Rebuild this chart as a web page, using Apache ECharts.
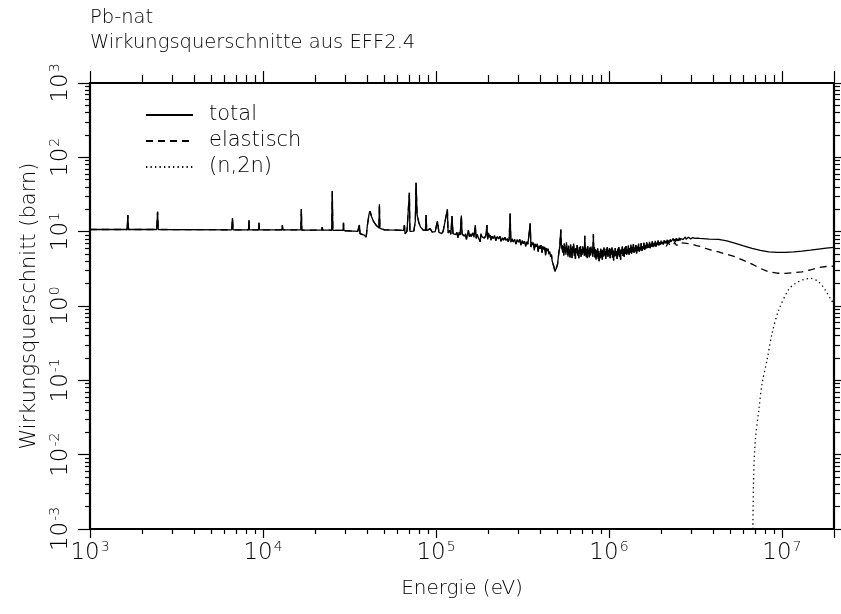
<!DOCTYPE html>
<html>
<head>
<meta charset="utf-8">
<script src="https://cdn.jsdelivr.net/npm/echarts@6/dist/echarts.min.js"></script>
<style>
  html, body { margin: 0; padding: 0; background: #fff; }
  #chart { width: 841px; height: 614px; }
</style>
</head>
<body>
<div id="chart"></div>
<script>
// Pb-nat cross sections from EFF-2.4: energy in eV, cross section in barn.

// Total cross section, resolved resonance range (1 keV - 100 keV)
const totalResolved = [
  [1000, 10.7], [1640, 10.7], [1655, 16.7], [1670, 10.7],
  [2430, 10.7], [2459, 18.5], [2480, 10.7],
  [6600, 10.6], [6660, 15.2], [6720, 10.6],
  [8250, 10.6], [8300, 14.3], [8350, 10.6],
  [9430, 10.6], [9480, 13.2], [9530, 10.6],
  [12850, 10.6], [12940, 12.3], [13030, 10.6],
  [16550, 10.6], [16660, 20.1], [16770, 10.5],
  [21850, 10.5], [22000, 11.5], [22150, 10.5],
  [24950, 10.5], [25150, 35.2], [25350, 10.4],
  [29000, 10.4], [29200, 13.2], [29400, 10.3],
  [35300, 10.1], [35800, 9.7], [36100, 12.3], [36400, 9.4],
  [38500, 9.0], [39500, 8.4], [40100, 12.0], [41000, 17.0], [41600, 18.9],
  [42400, 16.0], [43700, 13.5], [45400, 12.0], [46800, 11.2], [47100, 23.3],
  [47400, 11.1], [50400, 10.6], [60000, 10.5], [65000, 10.4], [65700, 12.3],
  [66300, 9.3], [68000, 10.2], [69800, 10.2], [70200, 33.4], [70700, 10.1],
  [74500, 10.2], [76000, 14.0], [76700, 45.5], [77800, 17.0], [79500, 13.4],
  [81500, 11.5], [84000, 10.6], [87000, 10.4], [87700, 16.7], [88400, 10.3],
  [92600, 11.0], [95000, 9.9], [99000, 10.0]
];

// Total cross section, 100 keV - 2 MeV (dense resonance structure)
const totalMid = [
  [101900, 13.9], [104000, 9.8], [106000, 10.3], [108000, 9.4], [110000, 10.1],
  [112000, 9.7], [116400, 20.0], [117500, 9.6], [120000, 10.4], [122000, 9.2],
  [123800, 16.2], [125500, 9.4], [128000, 10.0], [130000, 9.1], [132000, 9.8],
  [134000, 8.3], [136000, 9.8], [138000, 9.0], [140200, 16.5], [141500, 9.3],
  [144000, 9.7], [146000, 8.7], [148000, 9.4], [150000, 7.9], [152000, 9.2],
  [154000, 10.4], [156000, 8.5], [158000, 9.3], [160000, 8.6], [163000, 9.6],
  [166000, 8.4], [168700, 12.3], [170500, 8.1], [173000, 9.2], [175000, 8.5],
  [178000, 9.0], [180000, 7.3], [182000, 9.4], [184000, 8.6], [187000, 9.0],
  [190000, 8.2], [194000, 8.8], [197200, 12.3], [199000, 7.9], [201000, 9.6],
  [203000, 8.4], [206000, 9.0], [208000, 7.7], [211000, 8.7], [214000, 8.1],
  [218000, 8.9], [222000, 7.6], [226000, 8.6], [230000, 8.0], [234000, 8.7],
  [238000, 7.4], [242000, 8.3], [246000, 7.7], [250000, 8.4], [254000, 7.6],
  [258000, 8.1], [262000, 7.3], [265000, 8.0], [268500, 17.6], [271000, 7.2],
  [275000, 8.0], [280000, 7.3], [285000, 7.9], [290000, 6.8], [295000, 7.8],
  [300000, 7.2], [305000, 7.9], [310000, 6.6], [315000, 7.6], [320000, 6.9],
  [325000, 7.4], [330000, 6.3], [335000, 7.3], [340000, 6.8], [345000, 7.2],
  [350600, 12.9], [354000, 6.2], [358000, 7.3], [362000, 6.6], [366000, 7.1],
  [370000, 5.6], [375000, 6.8], [380000, 6.3], [385000, 6.9], [390000, 5.4],
  [395000, 6.5], [400000, 5.9], [405000, 6.6], [410000, 5.2], [415000, 6.4],
  [420000, 5.8], [425000, 6.2], [430000, 4.8], [435000, 6.0], [440000, 5.5],
  [445000, 5.9], [450000, 5.0], [455000, 5.4], [460000, 4.6], [465000, 4.9],
  [470000, 4.0], [475000, 4.1], [480000, 3.4], [485000, 3.3], [488000, 2.9],
  [493000, 2.75], [497000, 3.0], [500000, 3.4], [505000, 3.7], [510000, 4.6],
  [515000, 5.5], [520000, 6.5], [527000, 10.7], [531000, 5.9], [535000, 6.6],
  [540000, 5.2], [544000, 6.4], [548000, 4.8], [552000, 6.9], [556000, 5.4],
  [560000, 6.2], [564000, 4.9], [568000, 7.2], [572000, 5.3], [576000, 6.0],
  [580000, 4.6], [584000, 6.5], [588000, 5.1], [592000, 5.8], [596000, 4.5],
  [600000, 6.7], [604000, 5.0], [608000, 6.1], [612000, 4.4], [616000, 6.3],
  [620000, 5.2], [625000, 6.9], [630000, 4.7], [635000, 5.9], [640000, 4.3],
  [645000, 6.0], [650000, 5.1], [655000, 6.6], [660000, 4.8], [665000, 5.7],
  [670000, 4.4], [675000, 6.2], [680000, 5.0], [685000, 6.4], [690000, 4.6],
  [695000, 5.8], [700000, 4.9], [705000, 6.3], [710000, 5.2], [715000, 6.0],
  [720000, 4.7], [725000, 8.8], [729000, 4.9], [734000, 6.2], [739000, 4.6],
  [744000, 5.9], [749000, 4.4], [754000, 6.4], [759000, 5.0], [764000, 5.7],
  [770000, 4.5], [776000, 6.1], [782000, 4.8], [788000, 6.3], [794000, 5.2],
  [800000, 5.9], [806000, 4.6], [813000, 9.3], [818000, 5.0], [824000, 6.2],
  [830000, 4.5], [836000, 5.8], [842000, 4.2], [848000, 5.6], [854000, 4.6],
  [860000, 6.0], [866000, 4.3], [872000, 5.5], [878000, 4.0], [884000, 5.2],
  [890000, 4.4], [896000, 5.9], [902000, 4.5], [909000, 5.6], [916000, 4.2],
  [923000, 5.7], [930000, 4.6], [937000, 6.1], [944000, 4.8], [951000, 5.5],
  [958000, 4.3], [965000, 5.9], [972000, 4.9], [979000, 6.2], [986000, 4.6],
  [993000, 5.6], [1000000, 4.8], [1008000, 6.0], [1016000, 4.4], [1024000, 5.8],
  [1032000, 4.9], [1040000, 6.1], [1048000, 4.5], [1056000, 5.7], [1064000, 4.1],
  [1072000, 5.4], [1080000, 4.6], [1088000, 6.0], [1096000, 4.7], [1105000, 5.5],
  [1114000, 4.3], [1123000, 5.9], [1132000, 4.8], [1141000, 6.2], [1150000, 4.6],
  [1159000, 5.6], [1168000, 4.2], [1177000, 5.8], [1186000, 5.0], [1195000, 6.3],
  [1205000, 4.7], [1215000, 5.9], [1225000, 4.6], [1235000, 6.1], [1245000, 5.0],
  [1255000, 6.4], [1265000, 4.9], [1275000, 5.8], [1285000, 5.1], [1296000, 6.5],
  [1307000, 4.9], [1318000, 6.0], [1329000, 5.2], [1340000, 6.7], [1351000, 5.0],
  [1362000, 6.2], [1373000, 5.3], [1385000, 6.8], [1397000, 5.2], [1409000, 6.1],
  [1421000, 5.4], [1433000, 6.6], [1445000, 5.1], [1458000, 6.3], [1471000, 5.5],
  [1484000, 6.9], [1497000, 5.4], [1510000, 6.2], [1523000, 5.6], [1537000, 7.0],
  [1551000, 5.5], [1565000, 6.4], [1579000, 5.8], [1593000, 7.1], [1608000, 5.7],
  [1623000, 6.6], [1638000, 5.9], [1653000, 7.2], [1668000, 6.0], [1684000, 6.7],
  [1700000, 6.1], [1716000, 7.3], [1732000, 6.0], [1748000, 6.9], [1765000, 6.3],
  [1782000, 7.4], [1799000, 6.2], [1816000, 7.0], [1834000, 6.4], [1852000, 7.5],
  [1870000, 6.3], [1888000, 7.1], [1906000, 6.6], [1925000, 7.6], [1944000, 6.5],
  [1963000, 7.2], [1982000, 6.7]
];

// Total cross section, 2 MeV - 20 MeV
const totalHigh = [
  [2002000, 7.6], [2022000, 6.8], [2042000, 7.3], [2063000, 6.7], [2084000, 7.7],
  [2105000, 7.0], [2126000, 7.5], [2148000, 6.9], [2170000, 7.8], [2192000, 7.1],
  [2214000, 7.6], [2236000, 7.0], [2259000, 7.9], [2282000, 7.3], [2305000, 7.7],
  [2328000, 7.2], [2352000, 8.1], [2376000, 7.4], [2400000, 7.9], [2424000, 7.3],
  [2449000, 8.2], [2474000, 7.5], [2499000, 8.0], [2524000, 7.5], [2550000, 8.3],
  [2576000, 7.6], [2602000, 8.1], [2628000, 7.7], [2655000, 8.4], [2682000, 7.8],
  [2709000, 8.2], [2736000, 7.8], [2764000, 8.5], [2792000, 7.9], [2820000, 8.3],
  [2849000, 7.9], [2878000, 8.4], [2907000, 8.0], [2936000, 8.4], [2966000, 8.0],
  [2996000, 8.5], [3026000, 8.0], [3057000, 8.3], [3088000, 8.1], [3119000, 8.4],
  [3151000, 8.1], [3183000, 8.3], [3250000, 8.15], [3350000, 8.1], [3500000, 8.05],
  [3800000, 7.95], [4300000, 7.9], [4800000, 7.5], [5390000, 6.96], [6000000, 6.45],
  [6720000, 5.96], [7500000, 5.6], [8390000, 5.36], [9400000, 5.25], [10470000, 5.26],
  [11700000, 5.34], [13060000, 5.48], [14600000, 5.65], [16300000, 5.83],
  [18000000, 6.0], [20000000, 6.15]
];

// Elastic cross section above 2 MeV (below it coincides with the total)
const elasticHigh = [
  [2002000, 7.2], [2050000, 6.5], [2100000, 6.9], [2150000, 6.4], [2200000, 7.1],
  [2250000, 6.6], [2300000, 7.0], [2350000, 6.5], [2400000, 7.2], [2450000, 6.6],
  [2500000, 7.0], [2560000, 6.6], [2620000, 7.1], [2680000, 6.7], [2740000, 7.0],
  [2800000, 6.6], [2870000, 6.9], [2940000, 6.5], [3010000, 6.8], [3080000, 6.5],
  [3200000, 6.5], [3400000, 6.3], [3620000, 5.96],
  [3900000, 5.65], [4300000, 5.36], [4800000, 4.95], [5390000, 4.59], [6000000, 4.1],
  [6720000, 3.66], [7500000, 3.2], [8390000, 2.88], [9400000, 2.76], [10470000, 2.75],
  [11700000, 2.8], [13060000, 2.88], [14600000, 3.05], [16300000, 3.30],
  [18000000, 3.4], [20000000, 3.44]
];

// (n,2n) cross section
const n2nData = [
  [6790000, 0.001], [6870000, 0.00558], [7020000, 0.0157], [7350000, 0.0397],
  [7680000, 0.0908], [8200000, 0.187], [8770000, 0.428], [9580000, 0.881],
  [10940000, 1.67], [11960000, 2.01], [13200000, 2.25], [14600000, 2.35],
  [16300000, 2.12], [17800000, 1.64], [19300000, 1.2], [20000000, 1.08]
];

const seriesNames = ['total', 'elastisch', '(n,2n)'];
const xDecades = [1e3, 1e4, 1e5, 1e6, 1e7];
const xLimits = [1e3, 2e7];
const yDecades = [1e-3, 1e-2, 1e-1, 1e0, 1e1, 1e2, 1e3];
const yLimits = [1e-3, 1e3];

const titleLines = ['Pb-nat', 'Wirkungsquerschnitte aus EFF2.4'];
const xName = 'Energie (eV)';
const yName = 'Wirkungsquerschnitt (barn)';

const FONT = 'DejaVu Sans';
const WEIGHT = 200;
const INK = '#000';

// minor tick positions 2..9 per decade, inside the axis range
function minorTicks(decades, lo, hi) {
  const out = [];
  [decades[0] / 10].concat(decades).forEach(function (d) {
    for (let k = 2; k <= 9; k++) {
      const v = d * k;
      if (v > lo * 1.0001 && v < hi * 0.9999) out.push(v);
    }
  });
  return out;
}

const xMinor = minorTicks(xDecades, xLimits[0], xLimits[1]);
const yMinor = minorTicks(yDecades, yLimits[0], yLimits[1]);
const xMajorTicks = xDecades.concat([xLimits[1]]);

const elasticData = totalResolved.concat(totalMid).concat(elasticHigh);
const totalData = totalResolved.concat(totalMid).concat(totalHigh);

function powLabel(v) {
  const e = Math.round(Math.log10(v));
  return '{b|10}{e|' + (e < 0 ? '-' + (-e) : String(e)) + '}';
}

const labelRich = {
  b: { fontFamily: FONT, fontWeight: WEIGHT, fontSize: 23, color: INK, lineHeight: 26 },
  e: { fontFamily: FONT, fontWeight: WEIGHT, fontSize: 14, color: INK, lineHeight: 14, verticalAlign: 'top', padding: [0, 0, 0, 1] }
};

function xAxisDef(pos, ticks, len, showLine, showLabel) {
  return {
    type: 'log', logBase: 10, min: xLimits[0], max: xLimits[1], position: pos,
    splitLine: { show: false },
    axisLine: { show: showLine, onZero: false, lineStyle: { color: INK, width: 2.2 } },
    axisTick: { show: true, inside: false, length: len, customValues: ticks, lineStyle: { color: INK, width: 1.2 } },
    axisLabel: showLabel ? {
      show: true, customValues: xDecades, margin: 11, formatter: powLabel, rich: labelRich
    } : { show: false },
    name: showLabel ? xName : '',
    nameLocation: 'middle', nameGap: 50,
    nameTextStyle: { fontFamily: FONT, fontWeight: WEIGHT, fontSize: 20, color: INK }
  };
}
function yAxisDef(pos, ticks, len, showLine, showLabel) {
  return {
    type: 'log', logBase: 10, min: yLimits[0], max: yLimits[1], position: pos,
    splitLine: { show: false },
    axisLine: { show: showLine, onZero: false, lineStyle: { color: INK, width: 2.2 } },
    axisTick: { show: true, inside: false, length: len, customValues: ticks, lineStyle: { color: INK, width: 1.2 } },
    axisLabel: showLabel ? {
      show: true, customValues: yDecades, rotate: 90, margin: 16, formatter: powLabel, rich: labelRich
    } : { show: false },
    name: showLabel ? yName : '',
    nameLocation: 'middle', nameGap: 50,
    nameTextStyle: { fontFamily: FONT, fontWeight: WEIGHT, fontSize: 21, color: INK }
  };
}

const chart = echarts.init(document.getElementById('chart'), null, { renderer: 'canvas' });

chart.setOption({
  backgroundColor: '#fff',
  animation: false,
  title: [
    { text: titleLines[0], left: 85, top: 3, textStyle: { fontFamily: FONT, fontSize: 19.5, fontWeight: WEIGHT, color: INK } },
    { text: titleLines[1], left: 85, top: 28, textStyle: { fontFamily: FONT, fontSize: 19.5, fontWeight: WEIGHT, color: INK } }
  ],
  grid: { left: 90, right: 7, top: 83, bottom: 85, containLabel: false },
  legend: {
    data: seriesNames,
    orient: 'vertical', left: 140, top: 99,
    itemWidth: 47, itemHeight: 14, itemGap: 4,
    itemStyle: { opacity: 0, borderWidth: 0 },
    textStyle: { fontFamily: FONT, fontWeight: WEIGHT, fontSize: 21, lineHeight: 22, color: INK, padding: [0, 0, 0, 11] }
  },
  xAxis: [
    xAxisDef('bottom', xMajorTicks, 9, true, true),
    xAxisDef('bottom', xMinor, 5, false, false),
    xAxisDef('top', xMajorTicks, 12, true, false),
    xAxisDef('top', xMinor, 8, false, false)
  ],
  yAxis: [
    yAxisDef('left', yDecades, 12, true, true),
    yAxisDef('left', yMinor, 5, false, false),
    yAxisDef('right', yDecades, 9, true, false),
    yAxisDef('right', yMinor, 6, false, false)
  ],
  series: [
    {
      name: seriesNames[0], type: 'line', data: totalData, showSymbol: false, symbol: 'none',
      xAxisIndex: 0, yAxisIndex: 0, z: 5,
      lineStyle: { color: INK, width: 1.3, type: 'solid' }, itemStyle: { color: INK }
    },
    {
      name: seriesNames[1], type: 'line', data: elasticData, showSymbol: false, symbol: 'none',
      xAxisIndex: 0, yAxisIndex: 0, z: 4,
      lineStyle: { color: INK, width: 1.3, type: [7, 5] }, itemStyle: { color: INK }
    },
    {
      name: seriesNames[2], type: 'line', data: n2nData, showSymbol: false, symbol: 'none',
      xAxisIndex: 0, yAxisIndex: 0, z: 3, smooth: 0.3,
      lineStyle: { color: INK, width: 1.3, type: [1.3, 3.2] }, itemStyle: { color: INK }
    }
  ]
});
</script>
</body>
</html>
